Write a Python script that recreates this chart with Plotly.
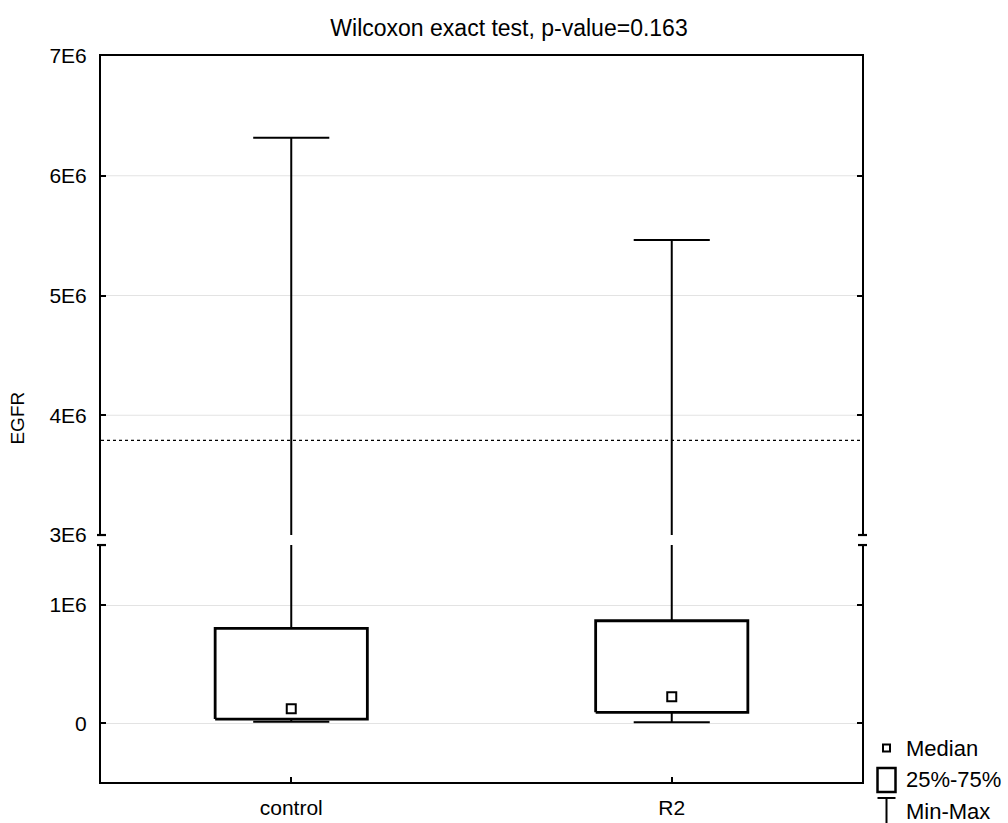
import plotly.graph_objects as go

# Summary statistics per group (EGFR)
categories = ["control", "R2"]
mins = [0.0135e6, 0.008e6]
q1 = [0.036e6, 0.093e6]
medians = [0.124e6, 0.225e6]
q3 = [0.803e6, 0.867e6]
maxs = [6.318e6, 5.463e6]
ref_line = 3.79e6

# Broken y-axis: lower and upper ranges, tick labels
lower_range = [-0.496e6, 1.507e6]
upper_range = [3e6, 7e6]
lower_ticks = [0, 1e6]
lower_ticktext = ["0", "1E6"]
upper_ticks = [3e6, 4e6, 5e6, 6e6, 7e6]
upper_ticktext = ["3E6", "4E6", "5E6", "6E6", "7E6"]
upper_grid = [4e6, 5e6, 6e6]

FONT = "Liberation Sans, Arial, sans-serif"
TXT = 21
BOX_HALF = 0.2
CAP_HALF = 0.1
LOW_DOM = [0.0, 0.3264]
UP_DOM = [0.3402, 1.0]

fig = go.Figure()

line_style = dict(color="black", width=2)

for i, name in enumerate(categories):
    # box (25%-75%)
    fig.add_trace(go.Scatter(
        x=[i - BOX_HALF, i + BOX_HALF, i + BOX_HALF, i - BOX_HALF, i - BOX_HALF],
        y=[q1[i], q1[i], q3[i], q3[i], q1[i]],
        mode="lines", line=dict(color="black", width=2.8),
        xaxis="x", yaxis="y", showlegend=False, hoverinfo="skip"))
    # whiskers drawn on both halves of the broken axis
    for ax in ("y", "y2"):
        fig.add_trace(go.Scatter(
            x=[i, i, None, i - CAP_HALF, i + CAP_HALF, None, i, i, None,
               i - CAP_HALF, i + CAP_HALF],
            y=[q3[i], maxs[i], None, maxs[i], maxs[i], None, q1[i], mins[i], None,
               mins[i], mins[i]],
            mode="lines", line=line_style,
            xaxis="x" if ax == "y" else "x2", yaxis=ax,
            showlegend=False, hoverinfo="skip"))
    # median
    fig.add_trace(go.Scatter(
        x=[i], y=[medians[i]], mode="markers",
        marker=dict(symbol="square-open", size=9, color="black",
                    line=dict(color="black", width=2)),
        xaxis="x", yaxis="y", showlegend=False, hoverinfo="skip"))

# dotted reference line in the upper panel
fig.add_trace(go.Scatter(
    x=[-0.5, 1.5], y=[ref_line, ref_line], mode="lines",
    line=dict(color="black", width=1.3, dash="dot"),
    xaxis="x2", yaxis="y2", showlegend=False, hoverinfo="skip"))

shapes = []
for g in upper_grid:
    shapes.append(dict(type="line", xref="x2 domain", yref="y2", x0=0, x1=1,
                       y0=g, y1=g, line=dict(color="#e3e3e3", width=1),
                       layer="below"))

# break markers at the ends of the side axis lines
for xa in (0, 1):
    for ya in (UP_DOM[0], LOW_DOM[1]):
        shapes.append(dict(type="line", xref="paper", yref="paper",
                           xsizemode="pixel", xanchor=xa, x0=-4, x1=5,
                           y0=ya, y1=ya, line=dict(color="black", width=2.2)))

# custom legend icons (paper coordinates, pixel-sized)
lx = 1.0322
shapes.append(dict(type="rect", xref="paper", yref="paper",
                   xsizemode="pixel", ysizemode="pixel",
                   xanchor=lx, yanchor=0.0468, x0=-3.5, x1=3.5, y0=-3.5, y1=3.5,
                   line=dict(color="black", width=2)))
shapes.append(dict(type="rect", xref="paper", yref="paper",
                   xsizemode="pixel", ysizemode="pixel",
                   xanchor=lx, yanchor=0.0028, x0=-9, x1=9, y0=-12, y1=12,
                   line=dict(color="black", width=2.5)))
shapes.append(dict(type="line", xref="paper", yref="paper",
                   xsizemode="pixel", ysizemode="pixel",
                   xanchor=lx, yanchor=-0.022, x0=-9, x1=9, y0=0, y1=0,
                   line=dict(color="black", width=2)))
shapes.append(dict(type="line", xref="paper", yref="paper",
                   xsizemode="pixel", ysizemode="pixel",
                   xanchor=lx, yanchor=-0.022, x0=0, x1=0, y0=0, y1=-30,
                   line=dict(color="black", width=2)))

legend_labels = ["Median", "25%-75%", "Min-Max"]
legend_y = [0.0468, 0.0028, -0.0413]
annotations = [
    dict(text=t, xref="paper", yref="paper", x=1.0555, y=y, xanchor="left",
         yanchor="middle", showarrow=False, font=dict(family=FONT, size=22, color="black"))
    for t, y in zip(legend_labels, legend_y)
]
annotations.append(dict(text="EGFR", xref="paper", yref="paper", x=-0.110, y=0.501,
                        textangle=-90, showarrow=False, xanchor="center", yanchor="middle",
                        font=dict(family=FONT, size=19, color="black")))

axis_common = dict(showline=True, linecolor="black", linewidth=2, zeroline=False,
                   automargin=False)

fig.update_layout(
    width=1008, height=823,
    margin=dict(l=101, r=146, t=56, b=41, autoexpand=False),
    paper_bgcolor="white", plot_bgcolor="white",
    font=dict(family=FONT, size=TXT, color="black"),
    title=dict(text="Wilcoxon exact test, p-value=0.163", xref="container",
               x=0.505, xanchor="center", yref="container", y=0.966, yanchor="middle",
               font=dict(family=FONT, size=23, color="black"), automargin=False),
    xaxis=dict(domain=[0, 1], anchor="y", range=[-0.5, 1.5], tickvals=[0, 1],
               ticktext=categories, ticks="inside", ticklen=5, tickwidth=1.5,
               tickcolor="black", showgrid=False, mirror=False,
               ticklabelstandoff=6, **axis_common),
    xaxis2=dict(domain=[0, 1], anchor="y2", matches="x", side="top",
                showticklabels=False, ticks="", showgrid=False, **axis_common),
    yaxis=dict(domain=LOW_DOM, anchor="x", range=lower_range, tickvals=lower_ticks,
               ticktext=lower_ticktext, ticks="inside", ticklen=5, tickwidth=1.5,
               tickcolor="black", mirror="ticks", showgrid=True, gridcolor="#e3e3e3",
               gridwidth=1, ticklabelstandoff=8, **axis_common),
    yaxis2=dict(domain=UP_DOM, anchor="x2", range=upper_range, tickvals=upper_ticks,
                ticktext=upper_ticktext, ticks="inside", ticklen=5, tickwidth=1.5,
                tickcolor="black", mirror="ticks", showgrid=False,
                ticklabelstandoff=8, **axis_common),
    shapes=shapes,
    annotations=annotations,
    showlegend=False,
)

fig.write_html("out.html")
